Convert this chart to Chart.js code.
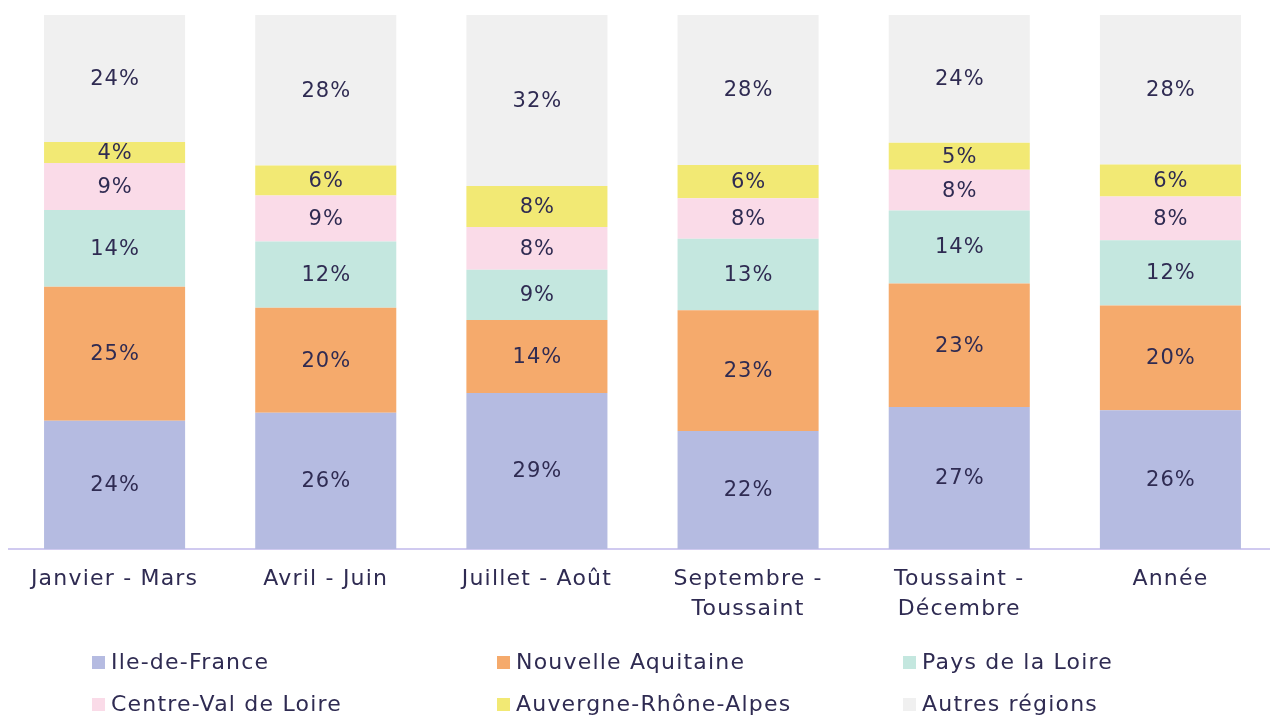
<!DOCTYPE html>
<html><head><meta charset="utf-8">
<script src="https://cdn.jsdelivr.net/npm/chart.js@4"></script>
<style>html,body{margin:0;padding:0;background:#fff;overflow:hidden}#wrap{width:1270px;height:716px;overflow:hidden}</style>
</head><body><div id="wrap"><canvas id="c" width="1280" height="716"></canvas></div>
<script>
const categories = [["Janvier - Mars"], ["Avril - Juin"], ["Juillet - Août"], ["Septembre -", "Toussaint"], ["Toussaint -", "Décembre"], ["Année"]];
const seriesNames = ["Ile-de-France", "Nouvelle Aquitaine", "Pays de la Loire", "Centre-Val de Loire", "Auvergne-Rhône-Alpes", "Autres régions"];
const ileDeFrance = [24.0, 25.5, 29.2, 22.1, 26.6, 26.0];
const nouvelleAquitaine = [25.1, 19.7, 13.7, 22.6, 23.1, 19.6];
const paysDeLaLoire = [14.4, 12.4, 9.4, 13.4, 13.7, 12.2];
const centreValDeLoire = [8.8, 8.6, 8.0, 7.6, 7.6, 8.2];
const auvergneRhoneAlpes = [3.9, 5.6, 7.7, 6.2, 5.1, 6.0];
const autresRegions = [23.8, 28.2, 32.0, 28.1, 23.9, 28.0];
const colors = ["#b5bbe1", "#f5aa6c", "#c4e7df", "#fadbe8", "#f2e974", "#f0f0f0"];
const seriesValues = [ileDeFrance, nouvelleAquitaine, paysDeLaLoire, centreValDeLoire, auvergneRhoneAlpes, autresRegions];

const FONT = "'DejaVu Sans', sans-serif";
const TEXT = "#2f2b52";

const spacingPlugin = {
  id: 'spacing',
  beforeDraw(chart) { chart.ctx.letterSpacing = "1.2px"; }
};

const labelPlugin = {
  id: 'segLabels',
  afterDatasetsDraw(chart) {
    const ctx = chart.ctx;
    ctx.save();
    ctx.font = "21px " + FONT;
    ctx.letterSpacing = "1px";
    ctx.fillStyle = TEXT;
    ctx.textAlign = "center";
    ctx.textBaseline = "middle";
    chart.data.datasets.forEach((ds, i) => {
      const meta = chart.getDatasetMeta(i);
      meta.data.forEach((el, j) => {
        const v = ds.data[j];
        const y = (el.y + el.base) / 2;
        ctx.fillText(Math.round(v) + "%", el.x + 0.5, y + 1);
      });
    });
    ctx.restore();
  }
};

const legendPlugin = {
  id: 'gridLegend',
  afterDraw(chart) {
    const ctx = chart.ctx;
    const cols = [92, 497, 903];
    const rows = [662, 704];
    ctx.save();
    ctx.font = "22px " + FONT;
    ctx.letterSpacing = "1.2px";
    ctx.textBaseline = "middle";
    ctx.textAlign = "left";
    chart.data.datasets.forEach((ds, i) => {
      const x = cols[i % 3], y = rows[Math.floor(i / 3)];
      ctx.fillStyle = ds.backgroundColor;
      ctx.fillRect(x, y - 6, 13, 13);
      ctx.fillStyle = TEXT;
      ctx.fillText(ds.label, x + 19, y + 1);
    });
    ctx.restore();
  }
};

new Chart(document.getElementById('c'), {
  type: 'bar',
  data: {
    labels: categories,
    datasets: seriesNames.map((n, i) => ({
      label: n,
      data: seriesValues[i],
      backgroundColor: colors[i],
      borderWidth: 0,
      barPercentage: 0.668,
      categoryPercentage: 1.0
    }))
  },
  options: {
    responsive: false,
    animation: false,
    layout: { padding: { top: 15, left: 9, right: 4, bottom: 0 } },
    plugins: { legend: { display: false }, tooltip: { enabled: false } },
    scales: {
      x: {
        stacked: true,
        grid: { display: false, drawTicks: false },
        border: { display: true, color: "#d0caf0", width: 2 },
        ticks: { color: TEXT, font: { family: FONT, size: 22, lineHeight: 1.33 }, padding: 16, maxRotation: 0, autoSkip: false },
        afterFit(scale) { scale.height = 167; }
      },
      y: {
        stacked: true, display: false, min: 0, max: 100
      }
    }
  },
  plugins: [spacingPlugin, labelPlugin, legendPlugin]
});
</script></body></html>
